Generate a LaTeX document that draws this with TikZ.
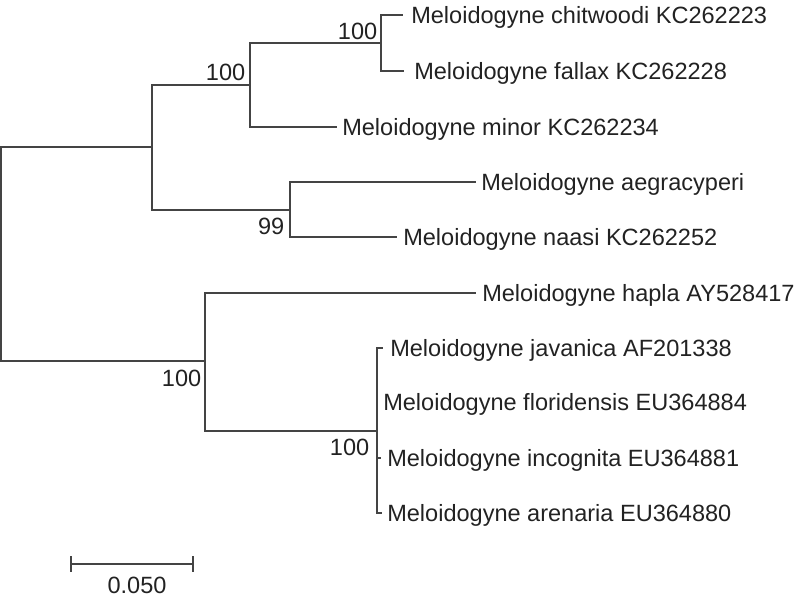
\documentclass[tikz,border=0pt]{standalone}
\usepackage{fontspec}
\setmainfont{Liberation Sans}
\definecolor{branchgray}{RGB}{68,68,68}
\definecolor{textgray}{RGB}{34,34,34}
\tikzset{every picture/.style={line width=1.2pt}}
\tikzset{
  branch/.style={draw=branchgray, line cap=rect},
  taxon/.style={anchor=base west, inner sep=0pt, text=textgray, font=\fontsize{17.65}{20}\selectfont},
  support/.style={anchor=base east, inner sep=0pt, text=textgray, font=\fontsize{17.65}{20}\selectfont}
}

\begin{document}
\begin{tikzpicture}[x=0.75pt,y=0.75pt,yscale=-1,xscale=1]
	\path (0,0) rectangle (800,600); %set diagram left start at 0, and has height of 600

	%Tree nodes
	\coordinate (root) at (1,254);
	\coordinate (nA) at (152,147);
	\coordinate (nB) at (250,85);
	\coordinate (nC) at (381,43);
	\coordinate (nD) at (290,210);
	\coordinate (nE) at (205,361);
	\coordinate (nF) at (377,431);

	%Tips
	\coordinate (tChit) at (402,15);
	\coordinate (tFall) at (403,71);
	\coordinate (tMino) at (336,127);
	\coordinate (tAegr) at (475,182);
	\coordinate (tNaas) at (396,237);
	\coordinate (tHapl) at (475,293);
	\coordinate (tJava) at (382,348);
	\coordinate (tFlor) at (377,402);
	\coordinate (tInco) at (380,458);
	\coordinate (tAren) at (381,513);

	%Branches
	\draw [branch] (root) |- (nA) ;
	\draw [branch] (root) |- (nE) ;
	\draw [branch] (nA) |- (nB) ;
	\draw [branch] (nA) |- (nD) ;
	\draw [branch] (nB) |- (nC) ;
	\draw [branch] (nB) |- (tMino) ;
	\draw [branch] (nC) |- (tChit) ;
	\draw [branch] (nC) |- (tFall) ;
	\draw [branch] (nD) |- (tAegr) ;
	\draw [branch] (nD) |- (tNaas) ;
	\draw [branch] (nE) |- (tHapl) ;
	\draw [branch] (nE) |- (nF) ;
	\draw [branch] (nF) |- (tJava) ;
	\draw [branch] (nF) |- (tFlor) ;
	\draw [branch] (nF) |- (tInco) ;
	\draw [branch] (nF) |- (tAren) ;

	%Taxon labels
	\node [taxon] (lChit) at (410.5,23.4) {Meloidogyne chitwoodi KC262223};
	\node [taxon] (lFall) at (413.5,79.4) {Meloidogyne fallax KC262228};
	\node [taxon] (lMino) at (341.5,135.4) {Meloidogyne minor KC262234};
	\node [taxon] (lAegr) at (480.5,190.4) {Meloidogyne aegracyperi};
	\node [taxon] (lNaas) at (402.5,245.4) {Meloidogyne naasi KC262252};
	\node [taxon] (lHapl) at (481.5,301.4) {Meloidogyne hapla AY528417};
	\node [taxon] (lJava) at (389.5,356.4) {Meloidogyne javanica AF201338};
	\node [taxon] (lFlor) at (382.5,410.4) {Meloidogyne floridensis EU364884};
	\node [taxon] (lInco) at (386.5,466.4) {Meloidogyne incognita EU364881};
	\node [taxon] (lAren) at (386.5,521.4) {Meloidogyne arenaria EU364880};

	%Bootstrap values
	\node [support] (sB) at (246,80.4) {100};
	\node [support] (sC) at (378,39.4) {100};
	\node [support] (sD) at (285,234.4) {99};
	\node [support] (sE) at (202,386.4) {100};
	\node [support] (sF) at (370,455.4) {100};

	%Scale bar
	\coordinate (barL) at (71,564);
	\coordinate (barR) at (193,564);
	\draw [branch] (barL) -- (barR) ;
	\draw [branch] ([yshift=-5.5pt]barL) -- ([yshift=5.5pt]barL) ;
	\draw [branch] ([yshift=-5.5pt]barR) -- ([yshift=5.5pt]barR) ;
	\node [taxon, anchor=base] (lBar) at (137,593.4) {0.050};

\end{tikzpicture}
\end{document}
